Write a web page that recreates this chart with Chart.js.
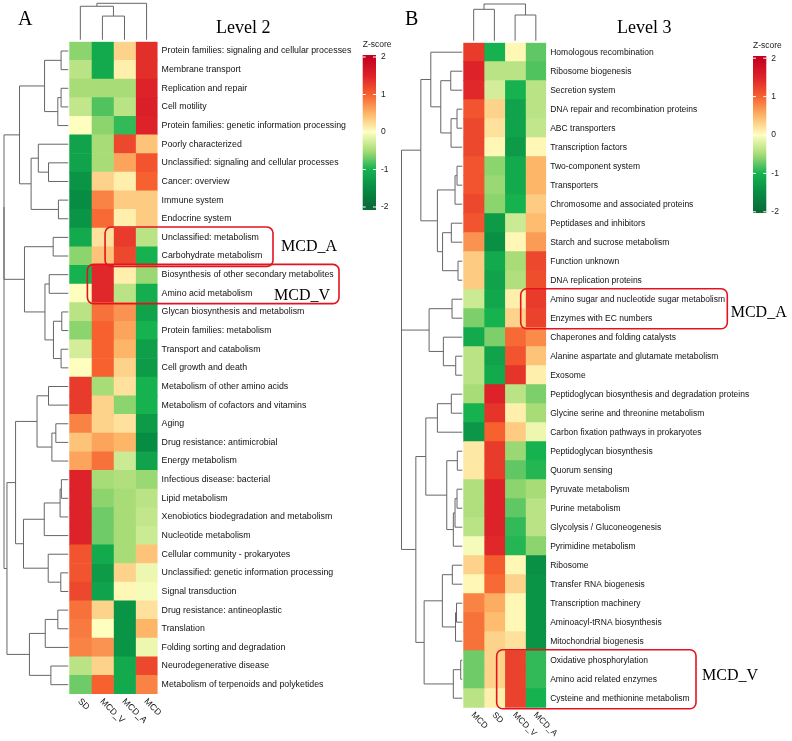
<!DOCTYPE html>
<html>
<head>
<meta charset="utf-8">
<script src="https://cdn.jsdelivr.net/npm/chart.js@4.4.1/dist/chart.umd.min.js"></script>
<style>
  html, body { margin: 0; padding: 0; background: #fff; }
  #wrap { position: relative; width: 792px; height: 741px; }
  .panel { position: absolute; top: 0; width: 396px; height: 741px; }
</style>
</head>
<body>
<div id="wrap">
  <div class="panel" style="left:0"><canvas id="chartA"></canvas></div>
  <div class="panel" style="left:396px"><canvas id="chartB"></canvas></div>
</div>
<script>
// ---- Level 2 (panel A) ----
var rowsA = [
  "Protein families: signaling and cellular processes", "Membrane transport", "Replication and repair",
  "Cell motility", "Protein families: genetic information processing", "Poorly characterized",
  "Unclassified: signaling and cellular processes", "Cancer: overview", "Immune system", "Endocrine system",
  "Unclassified: metabolism", "Carbohydrate metabolism", "Biosynthesis of other secondary metabolites",
  "Amino acid metabolism", "Glycan biosynthesis and metabolism", "Protein families: metabolism",
  "Transport and catabolism", "Cell growth and death", "Metabolism of other amino acids",
  "Metabolism of cofactors and vitamins", "Aging", "Drug resistance: antimicrobial", "Energy metabolism",
  "Infectious disease: bacterial", "Lipid metabolism", "Xenobiotics biodegradation and metabolism",
  "Nucleotide metabolism", "Cellular community - prokaryotes", "Unclassified: genetic information processing",
  "Signal transduction", "Drug resistance: antineoplastic", "Translation", "Folding sorting and degradation",
  "Neurodegenerative disease", "Metabolism of terpenoids and polyketides"
];
var colsA = ["SD", "MCD_V", "MCD_A", "MCD"];
var zA_SD    = [-0.6, -0.4, -0.5, -0.35, 0.0, -1.2, -1.2, -1.4, -1.5, -1.4, -1.1, -0.6, -1.0, 0.0, -0.4, -0.6, -0.25, 0.0,
                1.3, 1.3, 0.8, 0.4, 0.6, 1.5, 1.5, 1.5, 1.5, 1.1, 1.1, 1.2, 0.9, 0.85, 0.8, -0.4, -0.7];
var zA_MCD_V = [-1.1, -1.1, -0.5, -0.8, -0.6, -0.5, -0.5, 0.3, 0.8, 0.95, 0.2, 0.4, 1.45, 1.45, 0.9, 1.0, 1.0, 1.0,
                -0.5, 0.3, 0.3, 0.6, 0.9, -0.5, -0.6, -0.7, -0.7, -1.1, -1.3, -1.2, 0.3, 0.0, 0.7, 0.3, 1.0];
var zA_MCD_A = [0.3, 0.1, -0.5, -0.4, -0.9, 1.2, 0.6, 0.1, 0.35, 0.1, 1.3, 1.2, 0.1, -0.4, 0.7, 0.6, 0.5, 0.3,
                0.2, -0.6, 0.2, 0.5, -0.3, -0.45, -0.5, -0.5, -0.5, -0.5, 0.3, 0.05, -1.4, -1.4, -1.4, -1.1, -1.1];
var zA_MCD   = [1.4, 1.4, 1.5, 1.55, 1.5, 0.4, 1.1, 1.0, 0.35, 0.35, -0.4, -1.0, -0.55, -1.05, -1.2, -1.0, -1.25, -1.3,
                -1.0, -1.0, -1.3, -1.5, -1.2, -0.55, -0.4, -0.35, -0.3, 0.4, -0.1, -0.05, 0.2, 0.5, -0.1, 1.2, 0.8];
// row / column clustering: [left, right, distance], leaves are row indices
var rowTreeA = [[[[[0, 1, 7.3], [[2, 3, 7.3], 4, 10.6], 24], [[5, [6, 7, 20], 30.3], [8, 9, 10], 37.6], 49.3],
                 [[10, 11, 15.3], [[12, 13, 19.3], [[14, 15, 6.6], [16, 17, 7.3], 15], 23.6], 44.3], 65],
                [[[[18, 19, 20], [[20, 21, 12.6], 22, 16.6], 31.6],
                  [[[[23, 24, 7], 25, 8.3], 26, 24.3], [27, [28, 29, 7.6], 20.3], 45.3], 53.3],
                 [[[30, 31, 10.6], 32, 23.3], [33, 34, 17.6], 39.3], 62], 65];
var colTreeA = [[0, [1, 2, 24], 34], 3, 37];

// ---- Level 3 (panel B) ----
var rowsB = [
  "Homologous recombination", "Ribosome biogenesis", "Secretion system", "DNA repair and recombination proteins",
  "ABC transporters", "Transcription factors", "Two-component system", "Transporters",
  "Chromosome and associated proteins", "Peptidases and inhibitors", "Starch and sucrose metabolism",
  "Function unknown", "DNA replication proteins", "Amino sugar and nucleotide sugar metabolism",
  "Enzymes with EC numbers", "Chaperones and folding catalysts", "Alanine aspartate and glutamate metabolism",
  "Exosome", "Peptidoglycan biosynthesis and degradation proteins", "Glycine serine and threonine metabolism",
  "Carbon fixation pathways in prokaryotes", "Peptidoglycan biosynthesis", "Quorum sensing",
  "Pyruvate metabolism", "Purine metabolism", "Glycolysis / Gluconeogenesis", "Pyrimidine metabolism",
  "Ribosome", "Transfer RNA biogenesis", "Transcription machinery", "Aminoacyl-tRNA biosynthesis",
  "Mitochondrial biogenesis", "Oxidative phosphorylation", "Amino acid related enzymes",
  "Cysteine and methionine metabolism"
];
var colsB = ["MCD", "SD", "MCD_V", "MCD_A"];
var zB_MCD   = [1.3, 1.5, 1.45, 1.1, 1.2, 1.2, 1.1, 1.1, 1.2, 1.1, 0.7, 0.35, 0.35, -0.3, -0.65, -1.1, -0.4, -0.4,
                -0.5, -1.0, -1.35, 0.15, 0.15, -0.45, -0.45, -0.4, -0.05, 0.3, 0.05, 0.8, 0.9, 0.9, -0.7, -0.7, -0.4];
var zB_SD    = [-1.0, -0.4, -0.25, 0.3, 0.2, 0.05, -0.6, -0.55, -0.6, -1.3, -1.45, -1.1, -1.2, -1.15, -1.0, -0.65, -1.2, -1.1,
                1.5, 1.35, 1.0, 1.3, 1.3, 1.5, 1.5, 1.5, 1.45, 1.05, 0.95, 0.55, 0.45, 0.3, 0.3, 0.3, 0.1];
var zB_MCD_V = [0.05, -0.4, -1.0, -1.2, -1.2, -1.3, -1.1, -1.1, -1.0, -0.3, 0.05, -0.5, -0.45, 0.1, 0.3, 0.95, 1.1, 1.35,
                -0.4, 0.1, 0.35, -0.55, -0.75, -0.6, -0.75, -0.9, -0.95, 0.05, 0.3, 0.05, 0.05, 0.2, 1.25, 1.25, 1.25];
var zB_MCD_A = [-0.75, -0.8, -0.4, -0.4, -0.35, 0.05, 0.5, 0.5, 0.35, 0.45, 0.65, 1.2, 1.15, 1.3, 1.25, 0.75, 0.4, 0.1,
                -0.65, -0.5, -0.1, -1.0, -0.95, -0.5, -0.4, -0.4, -0.6, -1.45, -1.4, -1.4, -1.4, -1.4, -0.9, -0.9, -1.0];
var rowTreeB = [[[[0, [[1, 2, 11.6], [[3, 4, 5.3], 5, 11.3], 21.6], 31.6],
                  [[[6, 7, 5.3], 8, 7.3], [[9, 10, 11], [11, 12, 4.3], 19.8], 25], 41.6],
                 [[13, 14, 10.3], [15, [16, 17, 6.6], 19], 33.3], 61],
                [[[[18, 19, 11], 20, 25], [[21, 22, 5], [[[23, 24, 5.3], 25, 7.3], 26, 9], 15.6], 36.6],
                 [[[27, 28, 10], [[29, 30, 5.8], 31, 6.8], 20], [[32, 33, 1.6], 34, 9], 38.3], 46.6], 61];
var colTreeB = [[0, 1, 31.4], [2, 3, 25.7], 36.7];

var zTicks = ["2", "1", "0", "-1", "-2"];

// colour ramp (z-score -> colour)
var rampStops = [[-2, "#0a6a38"], [-1.5, "#078c43"], [-1, "#16b250"], [-0.5, "#a8dc76"], [0, "#fefebf"],
                 [0.5, "#fdb567"], [1, "#f6612f"], [1.5, "#de2229"], [2, "#c3001f"]];
function hex(c) { return [parseInt(c.substr(1, 2), 16), parseInt(c.substr(3, 2), 16), parseInt(c.substr(5, 2), 16)]; }
function zColor(z) {
  z = Math.max(-2, Math.min(2, z));
  for (var i = 0; i < rampStops.length - 1; i++) {
    var a = rampStops[i], b = rampStops[i + 1];
    if (z <= b[0]) {
      var t = (z - a[0]) / (b[0] - a[0]), ca = hex(a[1]), cb = hex(b[1]);
      return "rgb(" + ca.map(function (v, j) { return Math.round(v + (cb[j] - v) * t); }).join(",") + ")";
    }
  }
  return rampStops[rampStops.length - 1][1];
}

var SANS = "'Liberation Sans', Arial, sans-serif";
var SERIF = "'Liberation Serif', 'Times New Roman', serif";

function makeDeco(cfg) {
  return {
    id: "deco",
    afterDraw: function (chart) {
      var ctx = chart.ctx, area = chart.chartArea, xs = chart.scales.x, ys = chart.scales.y;
      var rowH = ys.getPixelForValue(1) - ys.getPixelForValue(0);
      ctx.save();

      // row dendrogram
      ctx.strokeStyle = "#666";
      ctx.lineWidth = 1;
      var leafX = area.left - 1;
      var kr = (leafX - cfg.rowTreeLeft) / cfg.rowTree[2];
      function walkRow(n) {
        if (typeof n === "number") return { p: ys.getPixelForValue(n), h: leafX };
        var a = walkRow(n[0]), b = walkRow(n[1]), h = leafX - n[2] * kr;
        ctx.beginPath();
        ctx.moveTo(a.h, a.p); ctx.lineTo(h, a.p); ctx.lineTo(h, b.p); ctx.lineTo(b.h, b.p);
        ctx.stroke();
        return { p: (a.p + b.p) / 2, h: h };
      }
      walkRow(cfg.rowTree);

      // column dendrogram
      var leafY = area.top - 2;
      var kc = (leafY - cfg.colTreeTop) / cfg.colTree[2];
      function walkCol(n) {
        if (typeof n === "number") return { p: xs.getPixelForValue(n + 0.5), h: leafY };
        var a = walkCol(n[0]), b = walkCol(n[1]), h = leafY - n[2] * kc;
        ctx.beginPath();
        ctx.moveTo(a.p, a.h); ctx.lineTo(a.p, h); ctx.lineTo(b.p, h); ctx.lineTo(b.p, b.h);
        ctx.stroke();
        return { p: (a.p + b.p) / 2, h: h };
      }
      walkCol(cfg.colTree);

      // column labels (rotated 45deg)
      ctx.fillStyle = "#111";
      ctx.font = cfg.labelSize + "px " + SANS;
      ctx.textAlign = "left";
      ctx.textBaseline = "middle";
      cfg.cols.forEach(function (c, i) {
        ctx.save();
        ctx.translate(xs.getPixelForValue(i + 0.5) - 1, area.bottom + 6);
        ctx.rotate(Math.PI / 4);
        ctx.fillText(c, 0, 0);
        ctx.restore();
      });

      // panel letter and title
      ctx.textBaseline = "alphabetic";
      ctx.font = "20px " + SERIF;
      ctx.fillStyle = "#000";
      ctx.fillText(cfg.letter[0], cfg.letter[1], cfg.letter[2]);
      ctx.font = "18px " + SERIF;
      ctx.fillText(cfg.title[0], cfg.title[1], cfg.title[2]);

      // z-score legend
      var lg = cfg.legend;
      var grad = ctx.createLinearGradient(0, lg.y0, 0, lg.y1);
      rampStops.forEach(function (s) {
        var y = lg.mid - s[0] * lg.step;
        grad.addColorStop(Math.max(0, Math.min(1, (y - lg.y0) / (lg.y1 - lg.y0))), s[1]);
      });
      ctx.fillStyle = grad;
      ctx.fillRect(lg.x, lg.y0, lg.w, lg.y1 - lg.y0);
      ctx.strokeStyle = "#fff";
      ctx.lineWidth = 1;
      ctx.fillStyle = "#222";
      ctx.font = "8.5px " + SANS;
      ctx.textBaseline = "middle";
      zTicks.forEach(function (t) {
        var y = lg.mid - parseFloat(t) * lg.step;
        ctx.beginPath();
        ctx.moveTo(lg.x, y); ctx.lineTo(lg.x + 3, y);
        ctx.moveTo(lg.x + lg.w - 3, y); ctx.lineTo(lg.x + lg.w, y);
        ctx.stroke();
        ctx.fillText(t, lg.x + lg.w + 5, y);
      });
      ctx.textBaseline = "alphabetic";
      ctx.fillText("Z-score", lg.x, lg.y0 - 8);

      // highlight boxes
      cfg.boxes.forEach(function (b) {
        var top = ys.getPixelForValue(b.rows[0]) - rowH / 2 - 1;
        var bot = ys.getPixelForValue(b.rows[1]) + rowH / 2 + 1;
        var left = xs.getPixelForValue(b.fromCol);
        ctx.strokeStyle = "#e3141f";
        ctx.lineWidth = 1.6;
        ctx.beginPath();
        ctx.roundRect(left, top, b.right - left, bot - top, 6);
        ctx.stroke();
        ctx.fillStyle = "#000";
        ctx.font = "16px " + SERIF;
        ctx.fillText(b.text, b.tx, b.ty);
      });
      ctx.restore();
    }
  };
}

function buildChart(id, rows, cols, zCols, pad, axisWidth, cfg) {
  var datasets = zCols.map(function (zs, c) {
    return {
      label: cols[c],
      data: zs.map(function (z, i) { return { y: rows[i], x: [c, c + 1], z: z }; }),
      backgroundColor: function (ctx) { return ctx.raw ? zColor(ctx.raw.z) : "#fff"; },
      borderWidth: 0,
      grouped: false,
      barPercentage: 1,
      categoryPercentage: 1
    };
  });
  return new Chart(document.getElementById(id).getContext("2d"), {
    type: "bar",
    data: { labels: rows, datasets: datasets },
    options: {
      indexAxis: "y",
      responsive: true,
      maintainAspectRatio: false,
      animation: false,
      layout: { padding: pad },
      scales: {
        x: { type: "linear", min: 0, max: 4, display: false },
        y: {
          type: "category",
          position: "right",
          grid: { display: false, drawTicks: false },
          border: { display: false },
          ticks: { autoSkip: false, padding: 4, color: "#111", font: { size: cfg.labelSize, family: SANS } },
          afterFit: function (scale) { scale.width = axisWidth; }
        }
      },
      plugins: { legend: { display: false }, tooltip: { enabled: false } }
    },
    plugins: [makeDeco(cfg)]
  });
}

buildChart("chartA", rowsA, colsA, [zA_SD, zA_MCD_V, zA_MCD_A, zA_MCD],
  { left: 69.3, top: 41.7, bottom: 47, right: 0 }, 238.4,
  {
    labelSize: 8.8,
    rowTree: rowTreeA, rowTreeLeft: 4, colTree: colTreeA, colTreeTop: 3.3, cols: colsA,
    letter: ["A", 18, 25], title: ["Level 2", 216, 33],
    legend: { x: 362.7, w: 13.3, y0: 55, y1: 210, mid: 132, step: 37.5 },
    boxes: [
      { rows: [10, 11], fromCol: 1.62, right: 273, text: "MCD_A", tx: 281, ty: 251 },
      { rows: [12, 13], fromCol: 0.82, right: 339, text: "MCD_V", tx: 274, ty: 300 }
    ]
  });

buildChart("chartB", rowsB, colsB, [zB_MCD, zB_SD, zB_MCD_V, zB_MCD_A],
  { left: 67.3, top: 42.7, bottom: 33.3, right: 0 }, 245.8,
  {
    labelSize: 8.5,
    rowTree: rowTreeB, rowTreeLeft: 5.5, colTree: colTreeB, colTreeTop: 4, cols: colsB,
    letter: ["B", 9, 25], title: ["Level 3", 221, 33],
    legend: { x: 357, w: 13.3, y0: 56, y1: 213, mid: 135, step: 38.4 },
    boxes: [
      { rows: [13, 14], fromCol: 2.77, right: 331.3, text: "MCD_A", tx: 334.7, ty: 317 },
      { rows: [32, 34], fromCol: 1.61, right: 300, text: "MCD_V", tx: 306, ty: 680 }
    ]
  });
</script>
</body>
</html>
